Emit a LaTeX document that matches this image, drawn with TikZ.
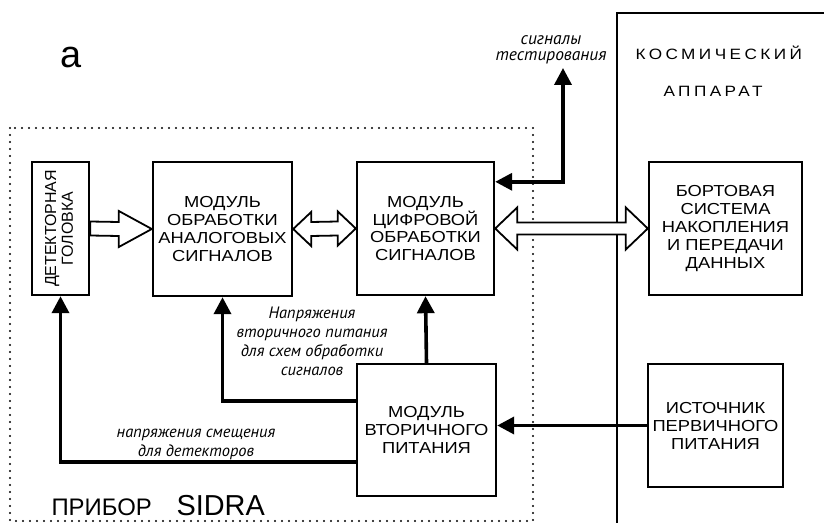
\documentclass[tikz,border=0pt]{standalone}
\usepackage{fontspec}
\setmainfont{Liberation Sans}
\newfontfamily\notefont{PT Sans}
\usetikzlibrary{arrows.meta,calc}

% hollow arrow from one node side to another (from, to, half shaft, half head, head length)
\newcommand{\fatarrow}[5]{%
  \draw[hollow] ($(#1)+(0,#3)$) -- ($(#2)+(-#5,#3)$) -- ($(#2)+(-#5,#4)$) -- (#2)
    -- ($(#2)+(-#5,-#4)$) -- ($(#2)+(-#5,-#3)$) -- ($(#1)+(0,-#3)$) -- cycle;}
% hollow arrow with two heads
\newcommand{\fatdarrow}[5]{%
  \draw[hollow] (#1) -- ($(#1)+(#5,#4)$) -- ($(#1)+(#5,#3)$) -- ($(#2)+(-#5,#3)$)
    -- ($(#2)+(-#5,#4)$) -- (#2) -- ($(#2)+(-#5,-#4)$) -- ($(#2)+(-#5,-#3)$)
    -- ($(#1)+(#5,-#3)$) -- ($(#1)+(#5,-#4)$) -- cycle;}
\newcommand{\boxfont}{\fontsize{16}{18}\selectfont\addfontfeature{FakeStretch=1.15}}

\tikzset{
  block/.style={draw, line width=2.4bp, inner sep=0pt, align=center, font=\boxfont},
  power/.style={line width=3.6bp, ->},
  hollow/.style={draw, fill=white, line width=1.8bp, line join=miter},
  note/.style={font=\notefont\itshape\fontsize{16.5}{19}\selectfont, align=center, inner sep=0pt},
  spaced/.style={anchor=base west, font=\fontsize{15}{15}\selectfont\addfontfeature{FakeStretch=1.15,LetterSpace=23}},
}

\begin{document}
\begin{tikzpicture}[x=1bp, y=-1bp, >={Triangle[length=17bp,width=17bp]}]
\useasboundingbox (0,0) rectangle (824,523);

% spacecraft
\draw[line width=2bp] (824,13) -- (617,13) -- (617,523);
\node[spaced] (sc1) at (632,60) {КОСМИЧЕСКИЙ};
\node[spaced] (sc2) at (660,97) {АППАРАТ};

% instrument
\draw[line width=2.2bp, line cap=round, dash pattern=on 0bp off 7bp] (10,128) rectangle (533,521);
\node[font=\fontsize{38}{38}\selectfont] (lbl) at (71,58) {а};
\node[anchor=base west, font=\fontsize{24}{24}\selectfont] (prib) at (48,515) {ПРИБОР};
\node[anchor=base west, font=\fontsize{29}{29}\selectfont] (sidra) at (173,515) {SIDRA};

% blocks
\node[block, minimum width=57bp, minimum height=133bp] (det) at (60.5,228.5) {};
\node[rotate=90, align=center, inner sep=0pt, font=\fontsize{16}{17}\selectfont] (dettext) at ([xshift=-1.5bp]det.center) {ДЕТЕКТОРНАЯ\\ГОЛОВКА};
\node[block, minimum width=139bp, minimum height=134bp] (analog) at (222.5,229) {МОДУЛЬ\\ОБРАБОТКИ\\АНАЛОГОВЫХ\\СИГНАЛОВ};
\node[block, minimum width=137bp, minimum height=133bp] (digital) at (425.5,228.5) {МОДУЛЬ\\ЦИФРОВОЙ\\ОБРАБОТКИ\\СИГНАЛОВ};
\node[block, minimum width=153bp, minimum height=133bp] (board) at (725.5,228.5) {БОРТОВАЯ\\СИСТЕМА\\НАКОПЛЕНИЯ\\И ПЕРЕДАЧИ\\ДАННЫХ};
\node[block, minimum width=139bp, minimum height=132bp] (secpow) at (426.5,430) {МОДУЛЬ\\ВТОРИЧНОГО\\ПИТАНИЯ};
\node[block, minimum width=135bp, minimum height=123bp] (primary) at (715.5,425.5) {ИСТОЧНИК\\ПЕРВИЧНОГО\\ПИТАНИЯ};

% data flow
\fatarrow{det.east}{analog.west}{7}{18}{33}
\fatdarrow{analog.east}{digital.west}{7}{17}{18}
\fatdarrow{digital.east}{board.west}{6}{21}{22}

% test signals
\node[note, font=\notefont\itshape\fontsize{17.5}{16.5}\selectfont] (test) at (551,50) {сигналы\\тестирования};
\coordinate (testtip) at (563,68);
\draw[power, <->] (testtip) |- ([yshift=-21bp]digital.north east);

% supply
\draw[power] (primary.west) -- (primary.west -| secpow.east);
\draw[power] (secpow.north) -- (digital.south);
\draw[power] ([yshift=-38bp]secpow.north west) -| (analog.south);
\draw[power] ([yshift=-99bp]secpow.north west) -| (det.south);
\node[note] (vsec) at (312,341) {Напряжения\\вторичного питания\\для схем обработки\\сигналов};
\node[note] (vbias) at (196,444) {напряжения смещения\\для детекторов};
\end{tikzpicture}
\end{document}
